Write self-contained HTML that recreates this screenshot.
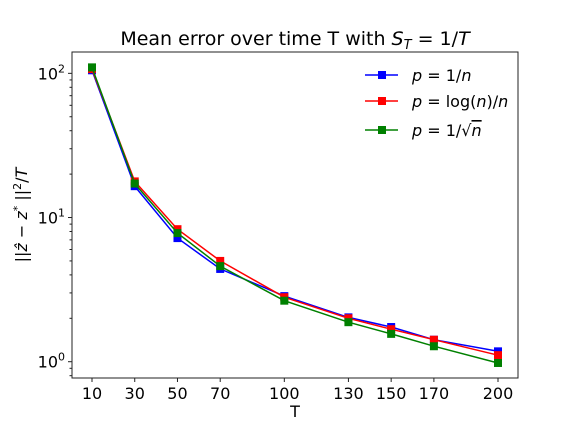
<!DOCTYPE html>
<html><head><meta charset="utf-8"><style>
body{margin:0;background:#fff;}
svg{display:block;font-family:"DejaVu Sans","Liberation Sans",sans-serif;}
</style></head><body>
<svg id="chart" width="576" height="432" xmlns="http://www.w3.org/2000/svg">
<rect width="576" height="432" fill="#fff"/>
<text x="295" y="45" font-size="19" text-anchor="middle">Mean error over time T with <tspan font-style="italic">S</tspan><tspan font-style="italic" font-size="13" dy="4">T</tspan><tspan dy="-4"> = 1/</tspan><tspan font-style="italic">T</tspan></text>
<g id="plot"></g>
<rect x="72" y="52" width="446" height="326" fill="none" stroke="#222" stroke-width="1"/>
<text x="295" y="417" font-size="16" text-anchor="middle">T</text>
<text transform="translate(27,215) rotate(-90)" font-size="16" text-anchor="middle">||<tspan font-style="italic">ẑ</tspan> − <tspan font-style="italic">z</tspan><tspan font-size="11" dy="-6">*</tspan><tspan dy="6"> ||</tspan><tspan font-size="11" dy="-6">2</tspan><tspan dy="6">/</tspan><tspan font-style="italic">T</tspan></text>
<g>
<g><line x1="365" y1="75" x2="398" y2="75" stroke="blue" stroke-width="1.5"/><rect x="378" y="71" width="8" height="8" fill="blue"/><text x="412" y="81" font-size="16"><tspan font-style="italic">p</tspan> = 1/<tspan font-style="italic">n</tspan></text></g>
<g><line x1="365" y1="101" x2="398" y2="101" stroke="red" stroke-width="1.5"/><rect x="378" y="97" width="8" height="8" fill="red"/><text x="412" y="107" font-size="16"><tspan font-style="italic">p</tspan> = log(<tspan font-style="italic">n</tspan>)/<tspan font-style="italic">n</tspan></text></g>
<g><line x1="365" y1="130" x2="398" y2="130" stroke="green" stroke-width="1.5"/><rect x="378" y="126" width="8" height="8" fill="green"/><text x="412" y="136" font-size="16"><tspan font-style="italic">p</tspan> = 1/√<tspan font-style="italic" text-decoration="overline">n</tspan></text></g>
</g>
</svg>
<script>
const categories=[10,30,50,70,100,130,150,170,200];
const seriesBlue=[105,16.5,7.2,4.4,2.85,2.03,1.74,1.42,1.18];
const seriesRed=[107,17.8,8.3,5.0,2.8,2.0,1.68,1.42,1.11];
const seriesGreen=[110,17.2,7.8,4.6,2.65,1.88,1.56,1.28,0.98];
const yTickLabels=["0","1","2"];
const NS="http://www.w3.org/2000/svg";
const L=72,R=518,T=52,B=378;
const xmin=0.64,xmax=209.36,lmin=-0.113,lmax=2.148;
function xs(v){return L+(v-xmin)/(xmax-xmin)*(R-L);}
function ys(v){return B-(Math.log10(v)-lmin)/(lmax-lmin)*(B-T);}
const g=document.getElementById('plot');
function mk(t,a){const e=document.createElementNS(NS,t);for(const k in a)e.setAttribute(k,a[k]);g.appendChild(e);return e;}
categories.forEach(c=>{
 const x=xs(c);
 const tk=mk('line',{x1:x,y1:B,x2:x,y2:B+4,stroke:'#222'});
 
 
 const t=mk('text',{x:x,y:B+21,'font-size':16,'text-anchor':'middle'});t.textContent=c;
 
 
});
yTickLabels.forEach(p=>{
 const y=ys(Math.pow(10,+p));
 const tk=mk('line',{x1:L-4,y1:y,x2:L,y2:y,stroke:'#222'});
 
 
 const t=mk('text',{x:L-7,y:y+6,'font-size':16,'text-anchor':'end'});
 t.innerHTML='10<tspan font-size="11" dy="-7">'+p+'</tspan>';
 
 
});
for(let d=-1;d<=2;d++)for(let m=2;m<=9;m++){
 const v=m*Math.pow(10,d);const y=ys(v);
 if(y<T||y>B)continue;
 const tk=mk('line',{x1:L-2.5,y1:y,x2:L,y2:y,stroke:'#222'});
 
 
}
[[seriesBlue,'blue','series-1-over-n'],[seriesRed,'red','series-log-n-over-n'],[seriesGreen,'green','series-1-over-sqrt-n']].forEach(([s,col,name])=>{
 const pts=s.map((v,i)=>xs(categories[i]).toFixed(1)+','+ys(v).toFixed(1)).join(' ');
 const pl=mk('polyline',{points:pts,fill:'none',stroke:col,'stroke-width':1.5});
 
 
 s.forEach((v,i)=>{
  const r=mk('rect',{x:xs(categories[i])-4,y:ys(v)-4,width:8,height:8,fill:col});
  
  
 });
});
</script>
</body></html>
